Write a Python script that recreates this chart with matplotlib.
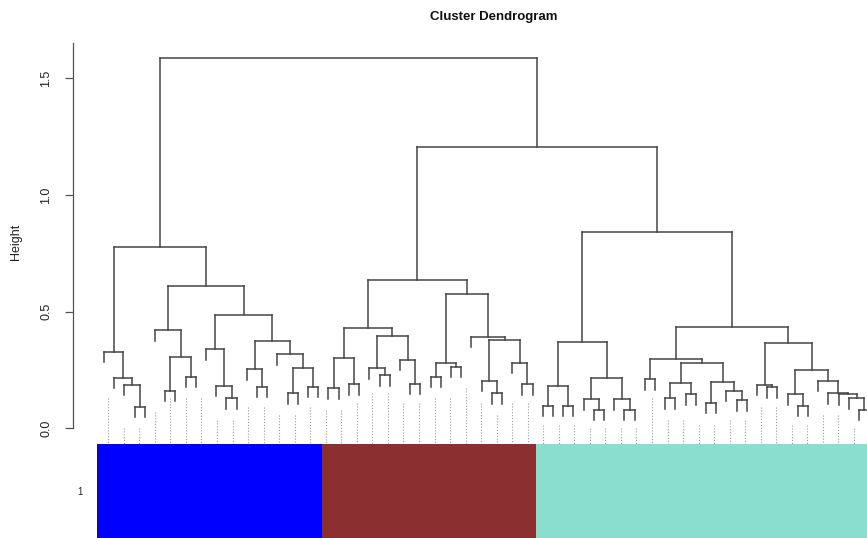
import matplotlib
matplotlib.use('Agg')
import matplotlib.pyplot as plt
from matplotlib.collections import LineCollection
from matplotlib.patches import Rectangle

plt.rcParams['font.family'] = ['Liberation Sans', 'DejaVu Sans']

# ---- data: dendrogram as nested (height, left, right); L = leaf ----
L = None
blue_tree = (0.777,
             (0.328, L, (0.217, L, (0.186, L, (0.093, L, L)))),
             (0.610,
              (0.421, L, (0.304, (0.161, L, L), (0.221, L, L))),
              (0.486,
               (0.339, L, (0.183, L, (0.128, L, L))),
               (0.374,
                (0.253, L, (0.178, L, L)),
                (0.317, L, (0.257, (0.150, L, L), (0.178, L, L)))))))
brown_tree = (0.636,
              (0.429,
               (0.303, (0.171, L, L), (0.189, L, L)),
               (0.397, (0.257, L, (0.228, L, L)), (0.293, L, (0.190, L, L)))),
              (0.576,
               (0.281, (0.221, L, L), (0.264, L, L)),
               (0.393, L, (0.378, (0.204, L, (0.150, L, L)),
                                  (0.281, L, (0.189, L, L))))))
teal_tree = (0.840,
             (0.371,
              (0.181, (0.096, L, L), (0.096, L, L)),
              (0.217, (0.124, L, (0.079, L, L)), (0.124, L, (0.079, L, L)))),
             (0.435,
              (0.297, (0.210, L, L),
               (0.279, (0.193, (0.129, L, L), (0.146, L, L)),
                       (0.200, (0.110, L, L), (0.161, L, (0.121, L, L))))),
              (0.364, (0.186, L, (0.175, L, L)),
               (0.250, (0.146, L, (0.096, L, L)),
                       (0.203, L, (0.150, L, (0.146, L, (0.128, L, (0.080, L, L)))))))))
root_height = 1.587
upper_right_height = 1.205

module_trees = [blue_tree, brown_tree, teal_tree]
module_colors = ['#0000FF', '#8B2F30', '#89DECF']
module_label = '1'

guide_tops = [0.130, 0.0, 0.0, 0.071, 0.130, 0.130, 0.130, 0.036, 0.036, 0.093,
              0.093, 0.057, 0.057, 0.093, 0.078, 0.078, 0.107, 0.150, 0.150, 0.107,
              0.107, 0.129, 0.129, 0.171, 0.107, 0.057, 0.107, 0.107, 0.014, 0.014,
              0.014, 0.0, 0.0, 0.0, 0.0, 0.129, 0.036, 0.036, 0.014, 0.014,
              0.036, 0.036, 0.093, 0.093, 0.014, 0.014, 0.057, 0.057, 0.0, 0.0]

y_ticks = [0.0, 0.5, 1.0, 1.5]
y_tick_labels = ['0.0', '0.5', '1.0', '1.5']

# ---- layout constants ----
hang = 0.045
guide_start = 0.42
guide_step = 1.5225
W, H = 867, 538

tree = (root_height, blue_tree, (upper_right_height, brown_tree, teal_tree))


def count_leaves(node):
    if node is None:
        return 1
    return count_leaves(node[1]) + count_leaves(node[2])


segs = []
counter = [0]


def layout(node):
    if node is None:
        i = counter[0]
        counter[0] += 1
        return float(i), None
    h, a, b = node
    xa, ha = layout(a)
    xb, hb = layout(b)
    for x, hc in ((xa, ha), (xb, hb)):
        bottom = hc if hc is not None else h - hang
        segs.append([(x, bottom), (x, h)])
    segs.append([(xa, h), (xb, h)])
    return (xa + xb) / 2.0, h


layout(tree)
n_leaves = counter[0]

fig = plt.figure(figsize=(W / 100, H / 100), dpi=100)

xlim = ((73 - 104) / 10.204, (867 - 104) / 10.204)
ylim = (-0.0673, 1.651)

ax = fig.add_axes([73 / W, 1 - 444 / H, (867 - 73) / W, (444 - 43) / H])
ax.set_xlim(*xlim)
ax.set_ylim(*ylim)

# guides
for k, top in enumerate(guide_tops):
    gx = guide_start + k * guide_step
    ax.plot([gx, gx], [top, ylim[0]], color='#9a9a9a', lw=0.8,
            linestyle=(0, (1, 1.6)), clip_on=True)

lc = LineCollection(segs, colors='#454545', linewidths=1.1, capstyle='projecting')
ax.add_collection(lc)

for s in ['top', 'right', 'bottom']:
    ax.spines[s].set_visible(False)
ax.spines['left'].set_bounds(0, ylim[1])
ax.spines['left'].set_color('#555555')
ax.spines['left'].set_linewidth(0.9)
ax.set_xticks([])
ax.set_yticks(y_ticks)
ax.set_yticklabels(y_tick_labels, rotation=90, va='center', fontsize=9, color='#222222')
ax.tick_params(axis='y', length=6, width=0.9, color='#555555', pad=9)
ax.set_ylabel('Height', fontsize=9, color='#222222')
ax.yaxis.set_label_coords((22 - 73) / (867 - 73), 1 - (241.7 - 43) / (444 - 43))

fig.text(494 / W, 1 - 17 / H, 'Cluster Dendrogram', ha='center', va='center',
         fontsize=9.5, fontweight='bold', color='#111111')

# colour bar
axb = fig.add_axes([73 / W, 0, (867 - 73) / W, 94 / H])
axb.set_xlim(*xlim)
axb.set_ylim(0, 1)
axb.axis('off')
start = 0
for t, c in zip(module_trees, module_colors):
    nl = count_leaves(t)
    axb.add_patch(Rectangle((start - 0.65, 0), nl, 1, facecolor=c, edgecolor='none'))
    start += nl
fig.text(80 / W, 1 - 492 / H, module_label, ha='center', va='center', fontsize=7,
         color='#222222')

fig.savefig('out.png', dpi=100)
